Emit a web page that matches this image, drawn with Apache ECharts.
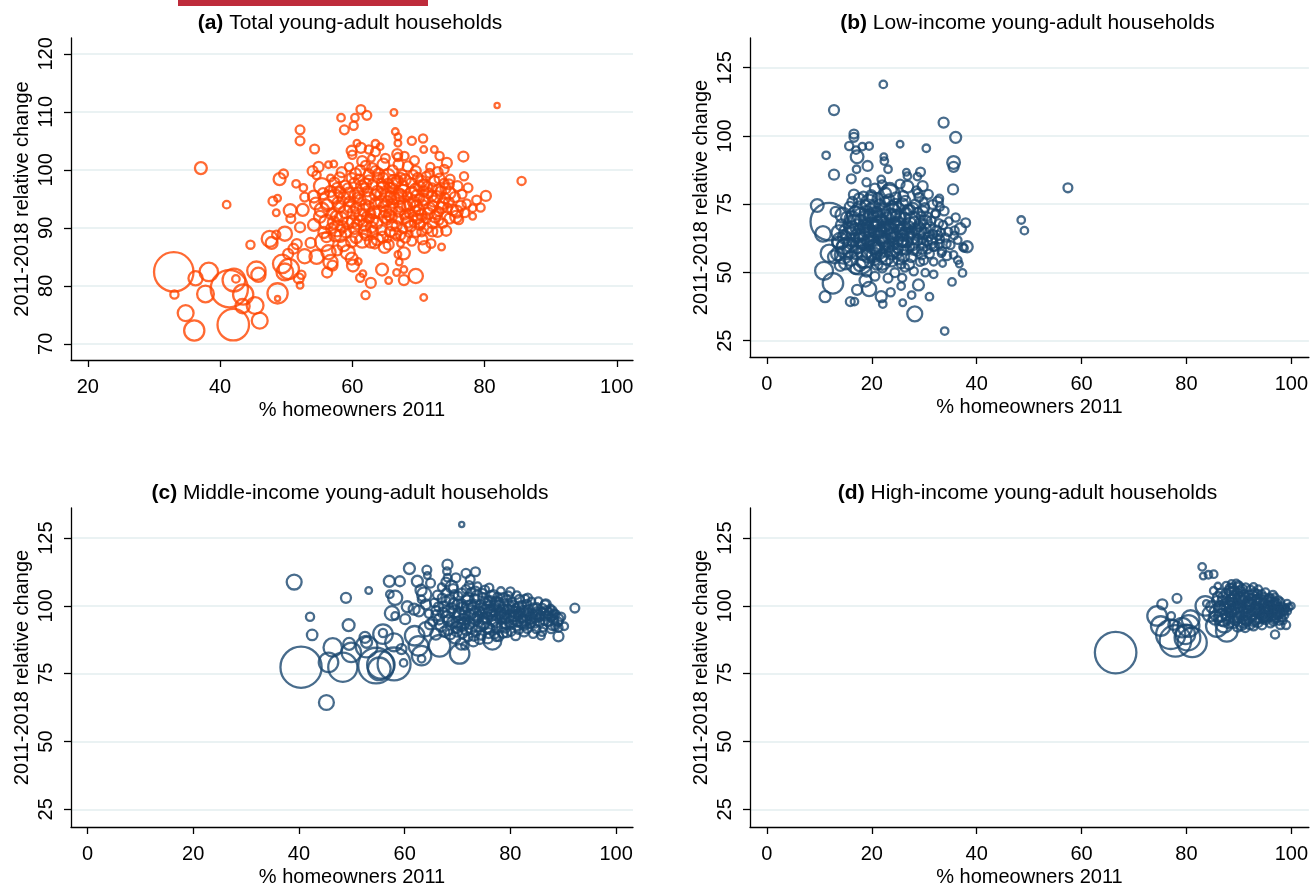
<!DOCTYPE html>
<html><head><meta charset="utf-8">
<script src="https://cdn.jsdelivr.net/npm/echarts@6/dist/echarts.min.js"></script>
<style>html,body{margin:0;padding:0;background:#fff}#chart{width:1311px;height:888px}</style>
</head><body><div id="chart"></div>
<script>
// ---- tick labels ----
const xTicksA = [20, 40, 60, 80, 100];
const yTicksA = [70, 80, 90, 100, 110, 120];
const xTicksBCD = [0, 20, 40, 60, 80, 100];
const yTicksBCD = [25, 50, 75, 100, 125];
const panelLetters = ['(a)', '(b)', '(c)', '(d)'];
const panelNames = ['Total young-adult households', 'Low-income young-adult households',
  'Middle-income young-adult households', 'High-income young-adult households'];
const xAxisTitle = '% homeowners 2011';
const yAxisTitle = '2011-2018 relative change';

// ---- data: [% homeowners 2011, 2011-2018 relative change, weight] ----
const totalHH = [
[33.0,82.4,160],[33.1,78.5,5],[36.3,81.3,18],[38.3,82.4,32],[37.8,78.6,26],[34.8,75.3,23],[36.1,72.3,39],[41.4,79.5,142],[42.1,81.0,50],[42.4,81.2,4],[43.5,78.5,39],[42.0,73.3,100],[43.4,76.5,18],[45.3,76.6,26],[46.0,74.0,23],[45.5,82.6,32],[45.8,81.9,18],[48.7,78.7,39],[48.7,77.8,1.5],[37.1,100.3,12],[41.0,94.0,4],[44.6,87.1,5],[47.5,88.1,23],[47.8,87.4,12],[48.5,88.8,5],[49.8,89.0,18],[49.0,98.4,12],[49.6,99.3,6],[48.0,94.6,6],[48.7,95.1,3],[48.5,92.6,3],[50.6,93.0,14],[50.7,91.6,6],[49.4,83.8,32],[49.8,82.4,26],[50.4,82.9,39],[50.3,85.5,8],[51.1,86.4,8],[51.9,81.3,8],[52.1,80.1,3],[52.3,81.9,5],[51.5,97.6,4],[52.1,106.9,6],[52.1,105.0,6],[54.3,103.6,6],[52.6,96.9,4],[52.8,95.3,6],[52.5,93.1,12],[52.1,90.1,8],[51.6,87.2,8],[52.8,85.1,18],[53.7,87.4,8],[54.6,85.0,18],[54.2,90.5,12],[54.0,99.8,8],[54.9,100.5,8],[54.6,99.1,5],[55.4,97.2,23],[56.4,100.9,3],[57.2,101.0,3],[56.7,98.6,3],[54.2,95.4,12],[54.5,94.2,12],[55.4,93.1,18],[56.4,94.8,32],[57.4,95.4,18],[56.1,91.0,18],[57.7,89.9,23],[55.8,87.6,32],[56.1,88.4,8],[56.4,85.8,18],[56.7,84.1,18],[56.2,82.3,8],[57.0,83.5,8],[57.7,86.1,8],[58.1,98.7,8],[58.3,109.0,4],[58.8,106.9,6],[60.2,107.6,5],[60.4,109.0,4],[61.3,110.4,6],[62.2,109.4,6],[60.7,104.6,3],[59.9,103.3,8],[60.0,102.6,5],[61.3,103.8,8],[62.5,103.5,5],[63.5,103.1,6],[62.9,102.0,3],[63.5,104.5,4],[64.2,104.0,3],[59.5,100.5,5],[61.5,101.5,8],[61.2,99.9,8],[62.5,99.2,8],[63.5,99.8,8],[64.7,100.9,12],[65.4,98.9,18],[66.3,109.9,3],[66.5,106.6,3],[66.9,105.7,3],[66.9,104.6,3],[66.8,102.7,8],[66.9,102.2,5],[69.0,105.0,5],[70.7,105.4,5],[70.8,103.5,3],[72.4,103.5,3],[73.2,102.4,5],[74.3,101.2,8],[76.8,102.3,8],[71.8,100.5,5],[68.4,100.6,8],[67.0,100.9,8],[81.9,111.1,1.5],[85.6,98.1,5],[80.2,95.5,8],[77.3,94.2,5],[78.2,93.4,4],[78.2,92.0,3],[75.8,92.8,12],[75.7,91.9,12],[74.7,96.0,12],[73.9,97.7,6],[73.2,98.5,8],[74.2,89.5,8],[72.9,89.3,8],[73.5,86.7,3],[70.9,86.7,12],[70.8,78.0,3],[69.6,81.7,18],[67.8,81.0,8],[67.8,82.8,3],[67.8,85.6,12],[67.1,84.1,3],[66.9,85.4,3],[66.7,82.3,3],[65.5,80.9,3],[64.5,82.8,12],[62.8,80.5,8],[62.0,78.4,5],[61.2,81.4,5],[61.6,82.1,3],[60.9,84.2,3],[60.1,83.5,12],[59.9,84.7,12],[59.3,85.8,18],[58.7,87.0,12],[61.9,89.3,12],[61.5,87.8,18],[62.8,87.6,12],[63.8,88.0,12],[64.9,86.7,12],[65.4,88.1,3],[66.7,88.4,3],[67.3,87.3,3],[68.6,89.0,3],[69.6,89.3,8],[69.2,90.8,3],[70.5,90.6,3],[70.8,91.9,3],
[56.7,96.3,10],[57.7,96.9,8],[58.7,95.1,12],[59.3,96.9,6],[60.3,97.7,8],[60.9,96.0,10],[61.9,96.9,6],[62.5,95.1,12],[63.1,97.4,8],[63.8,96.3,10],[64.4,97.7,6],[65.1,95.7,12],[65.7,96.9,8],[66.3,98.0,15],[67.0,96.0,8],[67.6,97.2,10],[68.3,95.4,6],[68.9,97.7,8],[69.6,96.6,12],[70.2,95.1,6],[70.8,97.4,10],[71.5,96.0,8],[72.1,96.9,6],[72.8,95.4,10],[73.4,96.3,8],
[58.0,93.7,12],[59.0,92.8,15],[59.6,94.5,8],[60.6,93.4,10],[61.2,92.2,12],[62.0,94.0,8],[62.8,92.5,6],[63.5,94.2,10],[64.1,92.8,12],[64.7,93.7,8],[65.6,92.2,10],[66.2,94.2,6],[67.0,92.8,8],[67.8,94.0,12],[68.6,92.5,6],[69.2,94.5,10],[70.1,93.1,8],[70.7,94.0,6],[71.5,92.5,10],[72.2,93.7,8],[73.1,92.8,6],[73.7,94.2,10],
[58.3,91.6,15],[59.3,90.8,12],[60.3,89.9,10],[61.1,91.3,8],[61.9,90.5,12],[62.6,91.6,6],[63.7,90.8,10],[64.4,89.6,8],[65.2,91.3,6],[66.0,90.5,10],[66.9,91.6,8],[67.6,89.9,6],[68.4,91.0,10],[69.2,91.9,6],[70.2,90.5,8],[71.2,91.6,6],[72.1,90.8,8],[73.1,91.3,6],
[59.9,98.6,8],[62.5,98.3,6],[64.7,98.6,8],[67.6,99.2,6],[69.9,98.6,8],[71.2,98.9,6],[72.4,98.1,8],[74.0,95.1,8],[74.4,93.4,6],[74.7,91.6,8],[57.4,88.7,12],[59.0,89.3,10],[60.6,88.4,12],[63.1,89.3,10],[65.7,89.3,8],[67.3,88.7,6],[70.5,89.3,6],[72.1,89.4,8],[73.7,90.8,6],[64.4,94.5,12],[66.3,95.1,10],[62.5,93.7,8],[61.2,94.8,10],[68.3,93.7,8],[65.1,92.8,10],[67.0,95.1,12],[66.0,96.9,8],[63.5,95.7,10],[62.2,91.9,8],[67.9,92.2,6],[69.9,91.6,8],[65.4,97.7,6],[67.3,98.6,8],[69.2,99.2,6],[70.8,96.3,8],
[55.6,95.9,10],[56.2,93.9,12],[56.9,92.4,10],[57.3,97.8,8],[57.9,94.3,12],[58.5,90.2,10],[58.9,97.3,8],[59.6,93.6,10],[60.1,91.1,12],[60.8,95.2,8],[61.4,97.2,10],[61.7,93.1,12],[62.3,96.3,8],[62.9,90.1,10],[63.3,92.7,12],[63.9,98.6,8],[64.3,95.8,10],[64.9,91.9,12],[65.3,94.6,8],[65.9,93.2,10],[66.4,97.6,12],[66.7,90.3,8],[67.2,93.7,10],[67.7,96.4,12],[68.1,91.7,8],[68.7,94.0,10],[69.0,96.1,12],[69.5,92.9,8],[69.8,95.6,10],[70.4,92.3,8],[70.9,94.9,10],[71.3,97.1,8],[71.7,93.4,10],[72.0,95.5,8],[72.5,91.9,10],[73.0,96.6,8],[73.5,93.5,10],[74.1,96.8,8],[74.6,94.4,8],[75.2,93.1,10],[75.5,95.3,8],[76.1,91.4,6],[76.4,93.8,8],[77.0,92.6,6],[55.1,91.9,12],[55.7,89.2,10],[56.8,89.9,8],[57.6,92.0,10],[58.2,88.6,12],[59.9,87.6,10],[60.7,90.6,8],[62.1,88.8,10],[63.4,87.3,8],[64.6,88.4,10],[65.5,87.1,8],[66.5,89.1,10],[68.0,88.3,8],[69.0,87.7,6],[70.6,88.0,8],[71.9,87.3,6],[58.4,99.6,8],[60.5,99.3,10],[62.0,100.8,6],[63.0,100.3,8],[64.0,99.3,10],[66.1,99.9,8],[68.0,98.3,10],[69.6,99.8,8],[70.5,98.0,10],[71.7,99.4,6],[72.9,99.6,8],[74.8,98.4,6],[75.9,97.2,8],[76.6,95.8,6],[77.5,96.9,6],[78.8,94.8,6],[79.4,93.5,5],[76.9,98.9,5],[73.9,100.1,6],[65.0,102.0,6],[67.9,102.4,5],[69.4,101.6,6],
[59.5,95.9,12],[62.0,97.6,10],[64.6,96.9,12],[67.3,95.6,12],[69.7,93.8,10],[72.3,94.6,10],[60.2,92.6,12],[63.0,91.3,12],[65.9,91.9,10],[68.8,90.3,10],[71.3,89.9,8],[58.1,96.1,10],[61.0,98.3,8],[66.8,98.1,10],[70.1,97.2,10],[74.6,97.5,8],[57.2,90.9,12],[60.4,95.5,10],[65.8,95.4,10],[72.8,92.4,8]
];

const lowIncome = [
[22.2,118.9,4],[12.8,109.5,8],[33.7,104.9,8],[36.0,99.5,10],[35.6,90.3,14],[35.6,88.7,8],[35.5,80.4,8],[30.4,95.5,4],[25.4,97.0,3],[29.3,86.8,6],[28.7,85.1,4],[26.6,86.7,3],[23.1,87.8,4],[22.3,92.4,3],[22.4,90.8,4],[21.8,84.1,4],[11.3,92.9,4],[12.8,85.8,8],[15.7,96.3,5],[16.6,100.7,6],[16.6,99.5,6],[17.0,94.8,4],[17.2,92.4,14],[18.2,96.1,4],[19.5,96.3,4],[19.2,89.0,8],[17.1,87.8,4],[16.1,84.3,6],[9.6,74.5,14],[11.1,41.1,10],[15.9,39.3,6],[16.7,39.3,4],[17.2,43.6,8],[19.5,43.9,18],[18.8,47.0,12],[12.6,46.0,40],[10.9,50.6,30],[21.8,41.1,10],[22.1,38.4,4],[23.6,42.7,5],[25.9,38.9,3],[28.2,34.8,20],[33.9,28.5,4],[28.9,45.4,10],[27.6,41.7,4],[31.0,41.1,4],[25.6,45.0,4],[31.8,49.3,4],[30.2,49.9,4],[35.3,46.5,4],[37.3,49.8,4],[38.2,59.4,10],[37.4,59.3,4],[37.9,68.2,6],[36.9,66.0,10],[35.7,63.5,4],[36.4,54.5,4],[35.6,56.4,4],[36.7,53.1,3],[33.5,53.3,3],[34.3,56.1,6],[33.3,57.0,4],[31.8,53.9,4],[29.9,54.5,6],[32.6,75.9,8],[32.9,77.1,4],[29.9,75.9,4],[33.8,72.5,6],[32.1,71.4,4],[48.5,69.2,4],[49.1,65.3,4],[57.4,81.0,6],[23.4,80.2,18],[25.4,82.4,6],[26.8,81.4,12],[26.8,85.3,4],
[11.9,68.6,144],[11.9,57.0,28],[10.7,64.1,22],[17.6,54.5,80],[15.3,58.8,45],[23.4,78.4,40],[19.9,58.0,35],[14.0,61.5,25],[21.0,66.0,30],[25.0,70.0,20],[18.0,70.5,25],
[15.2,70.1,10],[16.1,66.3,15],[16.8,72.5,8],[17.3,63.4,18],[17.9,68.8,12],[18.4,60.2,10],[18.8,74.6,8],[19.1,65.7,20],[19.6,70.9,12],[20.0,62.1,15],[20.3,67.8,10],[20.7,58.9,12],[21.0,72.3,8],[21.4,64.9,18],[21.8,69.4,10],[22.1,61.7,12],[22.5,75.8,8],[22.9,66.5,15],[23.2,59.6,10],[23.6,71.2,12],[24.0,63.8,18],[24.3,68.1,10],[24.8,56.9,8],[25.1,73.4,10],[25.5,65.2,15],[25.9,61.1,8],[26.2,69.7,12],[26.6,58.3,8],[27.0,66.8,10],[27.3,72.9,8],[27.8,62.6,12],[28.1,68.5,8],[28.6,57.7,6],[29.0,64.3,10],[29.4,70.6,6],[29.9,60.8,8],[30.3,66.1,8],[30.8,63.0,6],[31.3,68.9,6],[31.8,59.4,5],[32.4,65.5,6],[33.0,62.2,5],[33.6,67.4,5],[34.2,60.5,6],[16.4,61.8,12],[17.0,57.3,15],[17.6,76.9,10],[18.2,53.8,12],[19.4,56.2,18],[19.9,78.3,8],[20.5,54.7,10],[21.2,77.0,10],[21.9,55.9,12],[22.7,79.1,8],[23.8,54.2,10],[24.6,77.5,8],[25.6,53.1,6],[26.4,76.2,8],[27.5,55.6,8],[28.3,75.1,6],[29.2,53.9,5],[30.1,73.8,6],[31.0,56.8,6],[32.2,71.6,5],[18.6,66.9,15],[19.3,61.5,12],[20.1,64.4,18],[20.9,68.2,12],[21.6,62.9,15],[22.3,66.0,10],[23.0,69.8,12],[23.4,63.1,15],[24.1,60.4,10],[24.7,66.9,12],[25.3,70.3,8],[26.0,63.6,10],[26.8,61.0,8],[27.6,64.8,10],[28.9,66.9,8],[29.7,62.4,6],[21.3,59.8,10],[22.6,57.6,8],[25.0,58.9,8],[27.2,59.5,6],[19.7,73.2,10],[21.5,74.9,8],[23.9,74.1,10],[26.9,73.0,8],[28.8,72.0,6],[30.6,70.5,5],[31.6,64.0,6],[32.8,68.0,5],[33.4,57.8,5],[34.6,64.9,5],[15.8,74.0,8],[16.6,78.5,8],[14.8,63.0,15],[15.5,57.8,12],[14.2,67.4,10],[13.6,60.9,12],[13.1,72.2,8],[12.9,55.7,15],[14.0,52.6,10],[16.9,51.2,8],[19.0,50.3,8],[22.0,51.6,6],[24.4,49.9,6],[26.3,51.8,5],[28.0,50.4,5],[23.1,47.9,6],[20.6,48.6,6],[25.8,48.0,5],
[14.5,71.0,20],[15.4,65.0,25],[15.9,60.0,18],[16.3,69.5,22],[16.9,64.6,28],[17.4,59.8,20],[17.7,73.4,18],[18.1,64.8,25],[18.5,57.4,22],[18.9,69.9,20],[19.3,63.3,30],[19.8,67.3,22],[20.2,60.0,25],[20.6,71.3,18],[20.9,65.7,25],[21.3,57.4,18],[21.7,67.7,22],[22.0,63.6,25],[22.4,70.5,18],[22.8,61.2,20],[23.1,67.0,22],[23.5,65.0,25],[23.8,57.2,15],[24.2,70.7,15],[24.5,62.1,20],[24.9,67.6,18],[25.2,64.0,15],[25.7,61.9,15],[26.1,66.2,15],[26.5,71.5,12],[26.9,63.9,15],[27.3,68.0,12],[27.7,60.2,12],[28.2,65.7,12],[28.7,62.0,10],[29.2,67.8,10],[29.6,58.6,8],[30.0,64.3,10],[30.5,61.5,8],[31.1,66.6,8],[31.5,62.0,8],[32.0,59.6,6],[32.6,63.6,6],[33.2,64.6,5],[17.3,66.7,20],[19.0,72.0,15],[20.4,74.0,12],[22.2,72.6,15],[24.5,74.8,12],[25.9,75.0,10],[27.9,73.6,8],[29.8,72.4,8],[18.0,61.6,22],[20.4,56.5,18],[22.9,55.3,15],[24.2,58.0,15],[26.0,56.0,12],[28.0,58.5,10],[29.5,56.6,8],[30.6,58.6,6],[16.0,55.0,18],[14.8,59.5,20],[13.8,64.5,22],[13.5,56.8,15],[15.0,53.5,15],[17.7,52.6,12],[21.0,53.0,10],[25.1,55.0,10],[27.1,52.9,8],[20.0,77.5,10],[23.3,76.8,8],[26.0,78.0,8],[29.0,77.5,6],[31.6,74.9,6],[32.9,60.4,6],[34.0,62.8,5],[35.0,60.0,5],[35.8,65.4,5],[36.4,61.8,4],[37.6,58.9,4],[36.0,70.1,5],[34.7,68.8,4],[33.0,74.0,4],[30.8,78.6,6],[28.5,80.0,5],[18.4,78.0,6],[16.3,75.8,8],[19.0,83.0,5],[20.6,80.7,8],[22.0,82.1,6],[29.7,81.6,8],[28.8,79.0,6],
[16.5,67.5,35],[18.7,62.5,40],[20.8,69.0,35],[22.6,64.5,45],[24.4,66.0,35],[26.3,62.8,30],[21.7,60.5,35],[19.5,75.5,25],[23.9,72.0,28],[17.0,70.8,30],[27.8,69.3,22],[20.3,58.2,30],[25.5,59.5,25],[29.0,65.4,18],[15.8,63.0,30],[14.6,56.4,28],[18.8,55.0,30],[22.0,54.0,25],[31.3,61.0,14],[30.2,68.5,14]
];

const middleIncome = [
[70.8,130.0,1.5],[39.1,108.8,20],[42.1,96.0,5],[42.5,89.3,9],[48.9,103.0,8],[49.4,92.9,12],[53.2,105.7,3],[45.2,64.4,20],[40.4,77.4,175],[46.4,84.7,32],[45.6,79.2,36],[48.3,77.4,85],[49.5,86.0,12],[49.9,82.9,36],[52.5,88.4,10],[52.8,86.6,10],[52.8,85.0,45],[54.6,78.0,130],[55.5,78.3,75],[55.2,76.8,50],[55.9,89.6,36],[55.9,90.0,5],[58.0,86.6,30],[58.0,78.6,110],[59.4,84.1,8],[59.8,79.0,4],[57.1,109.1,10],[59.1,109.1,8],[57.2,104.3,4],[58.2,103.0,18],[57.6,97.3,18],[58.2,96.3,4],[60.1,95.1,8],[60.9,113.8,10],[60.5,99.7,10],[61.8,98.8,10],[62.7,98.2,10],[62.4,109.1,10],[64.2,113.2,6],[64.3,111.2,3],[64.9,108.4,6],[63.1,105.8,10],[63.7,104.2,18],[63.2,102.4,4],[64.0,100.6,8],[61.9,89.0,36],[62.6,85.3,36],[63.2,81.7,36],[63.2,80.5,4],[64.0,91.4,18],[64.8,93.2,8],[66.6,85.3,45],[65.9,89.6,10],[68.1,115.2,8],[68.0,112.8,4],[68.1,110.4,4],[67.8,108.8,6],[68.9,107.1,12],[69.7,110.4,6],[71.6,112.0,6],[72.4,109.7,6],[73.4,112.6,6],[70.4,82.3,36],[70.7,85.9,10],[71.4,85.3,4],[76.6,87.2,30],[77.3,88.4,4],[85.8,89.0,4],[89.1,88.8,8],[88.9,95.1,12],[88.0,93.3,12],[89.1,92.0,5],[87.9,98.2,6],[86.7,100.6,8],[92.2,99.2,6],
[67.2,97.5,8],[67.8,101.8,6],[68.3,94.6,10],[68.9,99.2,8],[69.4,104.3,5],[69.8,92.1,10],[70.3,97.0,12],[70.7,101.0,6],[71.2,95.1,8],[71.6,106.2,5],[71.9,99.8,10],[72.3,93.4,8],[72.8,97.9,12],[73.2,102.7,6],[73.5,90.9,8],[73.9,95.9,10],[74.3,100.2,8],[74.7,104.8,5],[75.0,93.8,10],[75.4,98.4,12],[75.8,101.9,6],[76.1,91.6,8],[76.5,96.6,10],[76.9,99.9,8],[77.3,94.2,12],[77.6,103.4,5],[78.0,97.3,10],[78.4,92.4,8],[78.8,100.8,6],[79.1,95.5,10],[79.5,98.6,8],[79.9,93.0,6],[80.3,101.5,5],[80.7,96.2,8],[81.0,99.0,6],[81.4,94.3,8],[81.8,97.6,6],[82.2,100.3,5],[82.6,92.8,6],[83.0,96.4,8],[83.4,98.9,5],[83.8,95.0,6],[84.2,97.1,5],[84.6,93.6,6],[85.0,99.6,4],[85.5,95.8,5],[86.0,97.9,4],[86.5,94.4,5],[87.0,96.7,4],[87.6,99.1,4],[88.2,94.9,5],[68.6,89.5,8],[69.5,88.2,10],[70.9,90.0,8],[72.0,88.6,6],[73.0,86.9,8],[74.5,89.2,6],[75.7,88.0,8],[77.0,89.6,6],[78.6,90.1,8],[80.1,90.6,6],[81.6,91.2,5],[83.2,91.7,6],[84.9,91.5,5],[86.2,92.0,4],[70.1,103.6,6],[72.6,105.1,5],[73.8,107.3,4],[75.2,106.0,5],[76.8,104.2,6],[78.2,105.5,4],[79.6,103.8,5],[81.2,104.0,4],[82.8,102.6,5],[84.0,101.7,4],[85.3,101.8,4],[66.5,95.0,8],[66.9,92.6,10],[67.5,90.4,8],[65.9,98.3,6],[65.6,101.2,5],[66.2,104.0,6],[67.0,106.9,4],[71.4,97.4,10],[74.1,97.8,8],[76.3,98.1,10],[78.9,97.0,8],[81.5,96.9,6],[83.7,93.3,5],[70.0,94.0,10],[72.6,100.4,8],[75.6,95.6,10],[77.9,101.3,6],[80.5,98.2,8],[82.4,95.4,6],[85.8,96.5,5],[87.3,97.9,4],[88.6,97.0,4],
[67.5,99.8,8],[68.0,96.0,10],[68.5,102.4,8],[69.1,94.0,10],[69.5,97.9,12],[70.0,100.6,8],[70.5,92.9,10],[70.9,99.1,12],[71.3,93.9,10],[71.8,102.1,8],[72.2,96.5,12],[72.6,91.8,10],[73.0,99.3,12],[73.4,95.0,10],[73.7,103.8,8],[74.1,92.6,10],[74.5,98.7,12],[74.9,95.4,10],[75.3,100.8,10],[75.6,92.2,10],[76.0,97.4,12],[76.4,103.6,8],[76.7,94.6,10],[77.1,98.5,12],[77.5,92.1,8],[77.8,100.0,10],[78.2,95.6,12],[78.6,98.4,10],[79.0,92.0,8],[79.3,102.0,8],[79.7,96.2,10],[80.1,94.1,10],[80.5,100.1,8],[80.9,97.6,10],[81.2,92.8,8],[81.6,99.7,8],[82.0,95.9,10],[82.4,98.2,8],[82.8,94.5,8],[83.1,100.6,6],[83.5,97.2,8],[83.9,93.6,6],[84.3,99.3,6],[84.7,95.7,8],[85.1,97.9,6],[85.6,94.0,6],[86.1,99.2,5],[86.6,96.3,6],[87.1,94.1,5],[87.7,95.7,5],[88.3,97.3,4],[89.0,94.1,6],[89.6,96.0,5],[69.2,106.4,6],[70.8,104.8,6],[72.2,107.6,5],[73.4,105.5,6],[74.9,102.9,8],[76.0,106.7,5],[77.3,101.6,8],[78.6,103.1,6],[80.0,105.3,5],[81.7,102.4,6],[83.3,103.0,5],[86.6,100.5,5],[68.2,91.4,10],[69.9,90.5,8],[71.7,91.3,10],[73.1,89.0,8],[74.2,87.8,8],[75.9,90.0,8],[77.8,88.7,6],[79.3,90.1,6],[81.0,89.0,6],[82.6,90.4,6],[84.3,89.7,5],[86.0,90.5,5],[87.7,91.5,5],[88.5,92.6,5],[90.2,92.5,4],[66.0,96.5,8],[66.4,99.7,6],[67.1,102.9,6],[67.9,105.0,5],[65.3,94.3,6],[64.6,97.1,5],
[70.5,96.0,14],[73.3,97.2,14],[75.9,99.4,12],[78.4,96.4,12],[80.8,95.3,12],[83.0,98.0,10],[72.0,102.8,10],[74.8,93.3,12],[77.4,96.9,12],[79.8,99.7,10],[82.2,93.8,10],[85.0,97.0,8],[69.3,100.7,10],[71.0,93.0,12],[76.2,101.6,10],[79.0,93.8,10],[84.0,95.4,8],[86.8,98.2,6],[68.3,97.9,12],[87.9,96.4,6]
];

const highIncome = [
[66.5,82.8,178],[83.0,114.4,4],[83.2,111.0,3],[84.2,111.5,4],[85.2,111.7,4],[78.2,102.8,6],[75.4,100.6,8],[74.4,96.3,36],[75.1,92.6,36],[77.5,93.0,8],[77.1,96.3,4],[77.0,89.5,85],[77.9,87.1,100],[79.2,92.0,36],[80.4,92.6,45],[80.8,95.1,30],[80.2,88.3,65],[81.1,86.5,85],[79.8,89.5,36],[83.6,100.0,36],[83.8,100.9,3],[86.1,97.5,30],[85.8,92.6,45],[87.7,90.8,45],[86.0,103.3,8],[100.0,100.0,3],[99.0,93.0,5],[97.9,93.0,5],[96.9,89.5,5],[84.5,97.0,20],[86.8,95.8,25],[87.2,93.5,30],
[87.5,104.6,6],[88.0,101.2,10],[88.4,97.8,12],[88.8,106.9,5],[89.2,103.3,8],[89.6,99.5,12],[90.0,95.8,10],[90.3,105.4,6],[90.7,101.8,10],[91.1,98.3,12],[91.5,94.6,8],[91.9,103.9,6],[92.3,100.4,10],[92.6,96.9,12],[93.0,105.0,5],[93.4,102.2,8],[93.8,98.7,10],[94.2,95.4,8],[94.6,101.0,6],[95.0,97.6,8],[95.4,99.9,6],[95.8,103.1,4],[96.2,96.1,6],[96.6,98.8,6],[97.0,100.7,4],[97.4,96.8,5],[97.8,98.9,4],[98.2,95.6,4],[98.6,97.9,4],[99.0,99.2,3],[89.0,93.9,10],[90.5,92.9,8],[92.1,93.5,10],[93.6,94.0,8],[95.1,94.9,6],[96.7,95.2,5],[87.9,95.6,12],[87.2,98.9,10],[86.9,101.9,8],[88.6,108.1,4],[89.9,107.6,5],[91.3,106.8,5],[92.8,107.0,4],[94.3,104.3,5],[95.9,101.4,5],[97.6,102.3,3],[90.1,99.9,10],[91.8,101.6,8],[93.3,99.6,10],[94.9,99.3,8],[96.4,100.2,6],[89.4,97.1,12],[92.0,97.9,10],[94.0,97.4,8],[95.7,98.6,6],[97.2,98.7,5],[88.3,99.8,10],[91.0,104.0,8],[93.7,102.8,6],[96.1,102.8,4],
[87.0,103.2,8],[87.4,100.4,10],[87.7,96.9,12],[88.1,105.6,6],[88.5,102.3,10],[88.9,98.6,12],[89.3,95.0,10],[89.7,104.4,8],[90.1,101.3,12],[90.5,97.4,12],[90.9,94.0,10],[91.2,103.0,8],[91.6,99.6,12],[92.0,96.0,10],[92.4,102.6,8],[92.8,98.5,12],[93.2,95.2,10],[93.5,104.3,6],[93.9,100.8,10],[94.3,97.0,10],[94.7,103.2,6],[95.1,99.0,8],[95.5,96.0,8],[95.9,100.5,6],[96.3,97.7,8],[96.8,101.6,4],[97.1,95.7,6],[97.5,99.6,5],[97.9,97.5,5],[98.3,99.8,4],[98.7,96.6,4],[99.3,98.0,3],[88.3,106.5,6],[89.5,108.3,4],[90.7,106.2,6],[92.2,105.8,6],[93.7,106.2,4],[95.1,105.1,4],[96.5,104.2,4],[87.6,107.5,4],[86.5,104.7,6],[86.3,99.6,10],[86.6,96.6,12],[88.1,93.8,10],[89.8,92.4,8],[91.2,92.0,6],[92.8,92.6,6],[94.4,93.0,6],[96.0,93.6,5],[97.7,94.4,4],[98.4,94.6,4],[94.8,95.9,8],[93.0,101.3,10],[91.4,96.9,10],[90.0,103.0,10],[89.0,100.8,10],[95.6,102.2,5],[97.3,101.0,4],[98.0,101.6,3],[99.2,101.0,3],[99.5,99.5,4],[96.9,103.4,3],[89.2,105.6,6],[85.8,101.8,8],[85.2,105.6,4],[86.0,107.3,3],[84.8,99.7,10],[85.5,95.5,15],
[88.7,104.8,10],[90.3,102.9,12],[91.9,100.8,12],[93.5,98.2,12],[95.2,97.2,10],[96.9,97.0,8],[89.9,98.3,14],[91.3,95.4,12],[92.9,94.6,10],[94.7,96.0,10],[89.1,102.2,12],[92.6,103.8,8],[94.2,102.0,8],[95.8,99.3,8],[97.5,98.0,6],[88.0,99.6,14],[87.1,94.8,14],[90.0,106.8,8],[98.6,98.6,5],[96.6,94.4,6]
];

// ---- layout / style ----
const FONT = '"Liberation Sans", Arial, Helvetica, sans-serif';
const ORANGE = '#FF4500';
const NAVY = '#1A476F';
const GRIDC = '#EAF2F3';
const panels = [
  {data: totalHH, color: ORANGE, grid: {left: 71, top: 38, width: 562, height: 322}, xr: [17.46, 102.45], yr: [67.21, 122.74], xt: xTicksA, yt: yTicksA},
  {data: lowIncome, color: NAVY, grid: {left: 750, top: 38, width: 559, height: 319}, xr: [-3.22, 103.35], yr: [19.0, 135.9], xt: xTicksBCD, yt: yTicksBCD},
  {data: middleIncome, color: NAVY, grid: {left: 71, top: 508, width: 562, height: 322}, xr: [-3.12, 103.2], yr: [18.5, 136.1], xt: xTicksBCD, yt: yTicksBCD},
  {data: highIncome, color: NAVY, grid: {left: 750, top: 508, width: 559, height: 322}, xr: [-3.22, 103.35], yr: [18.5, 136.1], xt: xTicksBCD, yt: yTicksBCD}
];

const txt = {color: '#000', fontFamily: FONT, fontSize: 20};
const ttl = {color: '#000', fontFamily: FONT, fontSize: 21};
const option = {
  animation: false,
  backgroundColor: '#fff',
  title: panels.map((p, i) => ({
    text: '{b|' + panelLetters[i] + '} ' + panelNames[i],
    left: p.grid.left + p.grid.width / 2 - 7,
    top: p.grid.top - 30,
    textAlign: 'center',
    textStyle: Object.assign({}, ttl, {fontWeight: 'normal', rich: {b: Object.assign({}, ttl, {fontWeight: 'bold'})}})
  })),
  grid: panels.map(p => p.grid),
  xAxis: panels.map((p, i) => ({
    gridIndex: i, type: 'value', min: p.xr[0], max: p.xr[1],
    axisLine: {show: true, onZero: false, lineStyle: {color: '#000', width: 1.3}},
    axisTick: {show: true, length: 7, customValues: p.xt, lineStyle: {color: '#000', width: 1.3}},
    axisLabel: Object.assign({customValues: p.xt, margin: 17}, txt),
    splitLine: {show: false},
    name: xAxisTitle, nameLocation: 'middle', nameGap: 40, nameTextStyle: txt
  })),
  yAxis: panels.map((p, i) => ({
    gridIndex: i, type: 'value', min: p.yr[0], max: p.yr[1],
    axisLine: {show: true, onZero: false, lineStyle: {color: '#000', width: 1.3}},
    axisTick: {show: true, length: 7, customValues: p.yt, lineStyle: {color: '#000', width: 1.3}},
    axisLabel: Object.assign({customValues: p.yt, margin: 15, rotate: 90}, txt),
    splitLine: {show: true, lineStyle: {color: GRIDC, width: 1.8}},
    name: yAxisTitle, nameLocation: 'middle', nameGap: 39, nameTextStyle: txt
  })),
  series: panels.map((p, i) => ({
    type: 'scatter', xAxisIndex: i, yAxisIndex: i, data: p.data,
    symbol: 'circle',
    symbolSize: v => 3 * Math.sqrt(v[2]) + 1.5,
    itemStyle: {color: 'rgba(0,0,0,0)', borderColor: p.color, borderWidth: 2.3},
    emphasis: {disabled: true}, silent: true
  })),
  graphic: [
    {type: 'rect', left: 178, top: 0, shape: {width: 250, height: 6}, style: {fill: '#BE2B3B'}}
  ]
};
const chart = echarts.init(document.getElementById('chart'), null, {renderer: 'canvas'});
chart.setOption(option);
</script></body></html>
